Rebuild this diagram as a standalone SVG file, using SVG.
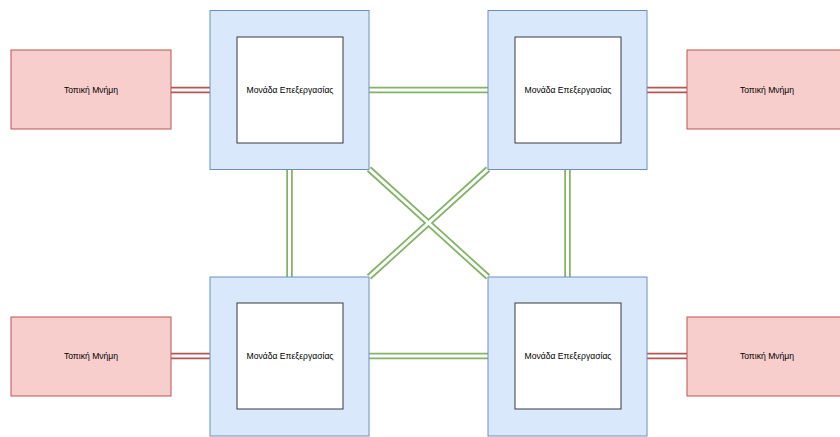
<svg xmlns="http://www.w3.org/2000/svg" width="840" height="437" viewBox="0 0 840 437">
<style>
.pu{fill:#dae8fc;stroke:#6c8ebf;stroke-width:1}
.inner{fill:#ffffff;stroke:#36393d;stroke-width:1}
.mem{fill:#f8cecc;stroke:#b85450;stroke-width:1}
.lbl{font-family:"Liberation Sans",Arial,sans-serif;font-size:8.6px;fill:#000;text-anchor:middle;dominant-baseline:central}
.lg{stroke:#82b366;stroke-width:6.5;fill:none}
.lr{stroke:#b85450;stroke-width:6.5;fill:none}
.lw{stroke:#ffffff;stroke-width:3;fill:none}
</style>
<rect width="840" height="437" fill="#ffffff"/>
<g id="connectors">
<path class="lr" d="M171 90H210M171 356H210M647 90H687M647 356H687"/>
<path class="lg" d="M369 90H488M369 356H488M289.5 169V277M567.5 169V277M369 169L488 277M488 169L369 277"/>
<path class="lw" d="M171 90H210M171 356H210M647 90H687M647 356H687"/>
<path class="lw" d="M369 90H488M369 356H488M289.5 169V277M567.5 169V277M369 169L488 277M488 169L369 277"/>
</g>
<g id="pu-tl"><rect class="pu" x="210" y="10.5" width="159" height="159"/><rect class="inner" x="237" y="37" width="106" height="106"/><text class="lbl" x="290" y="90">Μονάδα Επεξεργασίας</text></g>
<g id="pu-tr"><rect class="pu" x="488" y="10.5" width="159" height="159"/><rect class="inner" x="515" y="37" width="106" height="106"/><text class="lbl" x="568" y="90">Μονάδα Επεξεργασίας</text></g>
<g id="pu-bl"><rect class="pu" x="210" y="277" width="159" height="159"/><rect class="inner" x="237" y="303" width="106" height="106"/><text class="lbl" x="290" y="356">Μονάδα Επεξεργασίας</text></g>
<g id="pu-br"><rect class="pu" x="488" y="277" width="159" height="159"/><rect class="inner" x="515" y="303" width="106" height="106"/><text class="lbl" x="568" y="356">Μονάδα Επεξεργασίας</text></g>
<g id="mem-tl"><rect class="mem" x="11" y="50" width="160" height="79"/><text class="lbl" x="91" y="90">Τοπική Μνήμη</text></g>
<g id="mem-tr"><rect class="mem" x="687" y="50" width="160" height="79"/><text class="lbl" x="767" y="90">Τοπική Μνήμη</text></g>
<g id="mem-bl"><rect class="mem" x="11" y="317" width="160" height="79"/><text class="lbl" x="91" y="356">Τοπική Μνήμη</text></g>
<g id="mem-br"><rect class="mem" x="687" y="317" width="160" height="79"/><text class="lbl" x="767" y="356">Τοπική Μνήμη</text></g>
</svg>
